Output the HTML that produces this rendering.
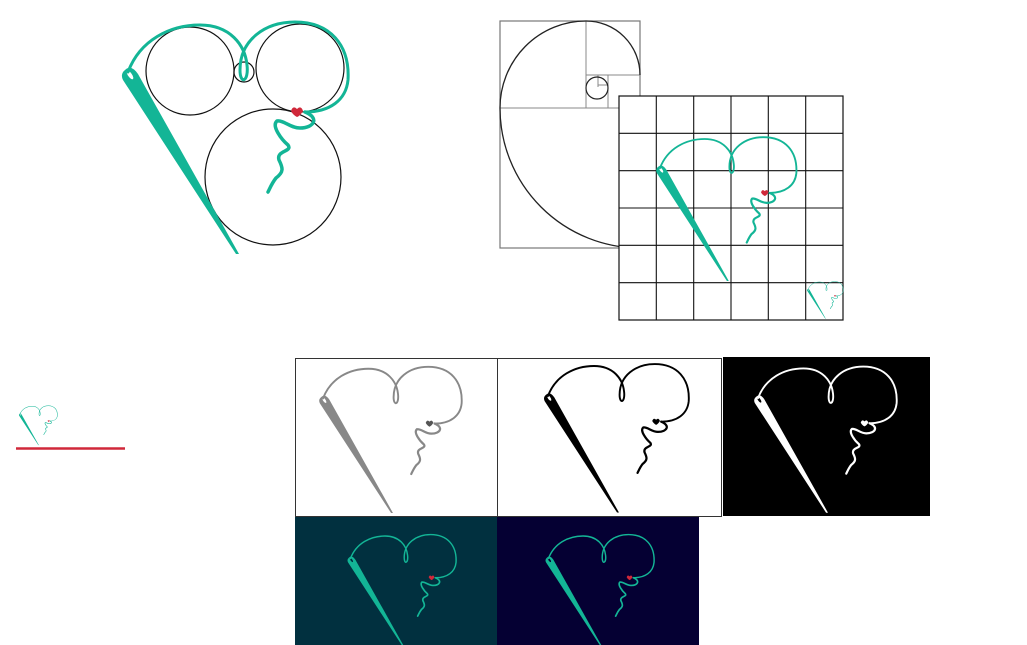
<!DOCTYPE html>
<html><head><meta charset="utf-8"><style>
html,body{margin:0;padding:0;background:#fff;}
svg{display:block;font-family:"Liberation Sans",sans-serif;}
</style></head><body>
<svg width="1027" height="645" viewBox="0 0 1027 645" xmlns="http://www.w3.org/2000/svg">
<defs>
  <g id="logo">
    <path d="M125,70 Q131,64 138,74 L239,254 L236,254 L123,80 Q120,74 125,70 Z" fill="currentColor"/>
    <ellipse cx="130" cy="75" rx="2" ry="5" transform="rotate(-35 130 75)" fill="var(--bg,#fff)"/>
    <path d="M128,72 C140,40 170,25 200,25 C230,25 245,45 247,65 C249,82 240,85 240,70 C240,40 265,22 295,22 C330,22 350,45 348,80 C346,100 330,112 305,112" fill="none" stroke="currentColor" stroke-width="3" stroke-linecap="round"/>
    <path d="M305,112 C320,118 314,128 300,128 C290,128 284,120 277,121 C271,126 282,140 288,145 C293,152 276,150 279,160 C283,168 284,172 276,178 C272,183 270,188 268,192" fill="none" stroke="currentColor" stroke-width="3.5" stroke-linecap="round"/>
    <path d="M291,111 Q293,105 297,109 Q301,105 303,111 Q300,116 297,117 Q293,115 291,111 Z" fill="var(--heart,#d0283a)"/>
  </g>
</defs>

<g fill="none" stroke="#111" stroke-width="1.2">
  <circle cx="190" cy="71" r="44"/>
  <circle cx="300" cy="68" r="44"/>
  <circle cx="244" cy="72" r="10"/>
  <circle cx="273" cy="177" r="68"/>
</g>
<use href="#logo" style="color:#13b596"/>

<g fill="none">
  <rect x="500" y="21" width="140" height="227" stroke="#777" stroke-width="1.2"/>
  <g stroke="#888" stroke-width="1">
    <line x1="500" y1="108" x2="640" y2="108"/>
    <line x1="586" y1="21" x2="586" y2="108"/>
    <line x1="586" y1="75" x2="640" y2="75"/>
    <line x1="608" y1="75" x2="608" y2="108"/>
    <line x1="598" y1="75" x2="598" y2="87"/>
    <line x1="598" y1="85" x2="608" y2="85"/>
  </g>
  <path d="M640,248 A140,140 0 0 1 500,108 A86,87 0 0 1 586,21 A54,54 0 0 1 640,75" stroke="#222" stroke-width="1.3"/>
  <circle cx="597" cy="88" r="11" stroke="#222" stroke-width="1.2"/>
</g>

<g>
  <rect x="619" y="96" width="224" height="224" fill="#fff" stroke="#111" stroke-width="1.2"/>
  <g stroke="#111" stroke-width="1.1">
    <line x1="656.3" y1="96" x2="656.3" y2="320"/><line x1="693.7" y1="96" x2="693.7" y2="320"/>
    <line x1="731" y1="96" x2="731" y2="320"/><line x1="768.3" y1="96" x2="768.3" y2="320"/>
    <line x1="805.7" y1="96" x2="805.7" y2="320"/>
    <line x1="619" y1="133.3" x2="843" y2="133.3"/><line x1="619" y1="170.7" x2="843" y2="170.7"/>
    <line x1="619" y1="208" x2="843" y2="208"/><line x1="619" y1="245.3" x2="843" y2="245.3"/>
    <line x1="619" y1="282.7" x2="843" y2="282.7"/>
  </g>
</g>
<use href="#logo" transform="translate(580.6,123.5) scale(0.62)" style="color:#13b596"/>
<use href="#logo" transform="translate(787.5,278) scale(0.16)" style="color:#13b596"/>

<use href="#logo" transform="translate(-1.8,402) scale(0.17)" style="color:#13b596"/>
<line x1="16" y1="448.5" x2="125" y2="448.5" stroke="#d0283a" stroke-width="2.5"/>

<rect x="295.5" y="358.5" width="202" height="158" fill="#fff" stroke="#333" stroke-width="1"/>
<use href="#logo" transform="translate(242.4,353) scale(0.63)" style="color:#888;--heart:#555"/>
<rect x="497.5" y="358.5" width="224" height="158" fill="#fff" stroke="#333" stroke-width="1"/>
<use href="#logo" transform="translate(466,350) scale(0.64)" style="color:#000;--heart:#000"/>
<rect x="723" y="357" width="207" height="159" fill="#000"/>
<use href="#logo" transform="translate(677.4,352.7) scale(0.63)" style="color:#fff;--heart:#fff;--bg:#000"/>
<rect x="295" y="517" width="202" height="128" fill="#01303f"/>
<use href="#logo" transform="translate(289,524) scale(0.48)" style="color:#13b596;--bg:#01303f"/>
<rect x="497" y="517" width="202" height="128" fill="#050033"/>
<use href="#logo" transform="translate(487,524) scale(0.48)" style="color:#13b596;--bg:#050033"/>
</svg>
</body></html>
